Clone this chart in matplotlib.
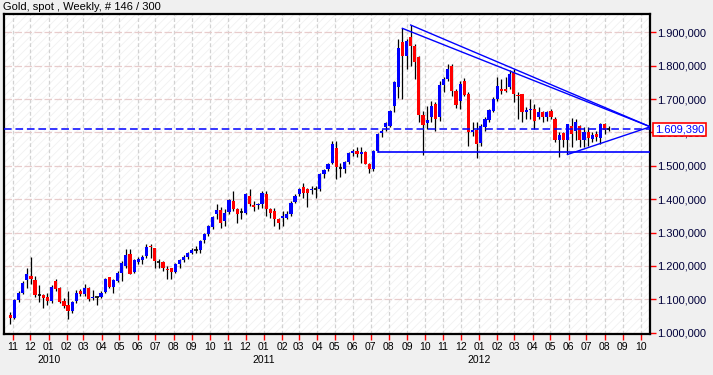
import matplotlib
matplotlib.use('Agg')
import matplotlib.pyplot as plt
import matplotlib.dates as mdates
import matplotlib.transforms as mtransforms
from matplotlib.patches import Rectangle
import numpy as np
import pandas as pd

plt.rcParams['font.family'] = ['Liberation Sans', 'DejaVu Sans']
plt.rcParams['hatch.linewidth'] = 0.5

title = 'Gold, spot , Weekly, # 146 / 300'
first_week = '2009-10-28'

opens = [1053, 1045, 1097, 1120, 1158, 1170, 1158, 1113, 1113, 1108,
         1095, 1155, 1135, 1095, 1083, 1065, 1095, 1125, 1115, 1135,
         1103, 1107, 1107, 1122, 1167, 1138, 1155, 1180, 1200, 1237,
         1182, 1212, 1217, 1230, 1260, 1253, 1214, 1212, 1192, 1193,
         1183, 1207, 1217, 1228, 1238, 1248, 1247, 1277, 1297, 1318,
         1357, 1367, 1335, 1363, 1395, 1370, 1362, 1360, 1410, 1382,
         1384, 1385, 1417, 1372, 1365, 1340, 1345, 1345, 1355, 1393,
         1415, 1437, 1430, 1427, 1430, 1430, 1477, 1490, 1510, 1553,
         1495, 1490, 1513, 1537, 1545, 1535, 1540, 1505, 1492, 1545,
         1598, 1617, 1620, 1680, 1735, 1872, 1830, 1887, 1860, 1825,
         1653, 1628, 1645, 1685, 1645, 1743, 1760, 1800, 1723, 1695,
         1755, 1715, 1600, 1608, 1567, 1615, 1637, 1665, 1700, 1730,
         1730, 1735, 1780, 1712, 1715, 1660, 1667, 1670, 1645, 1660,
         1645, 1665, 1640, 1577, 1598, 1576, 1618, 1604, 1620, 1576,
         1601, 1581, 1596, 1583, 1624, 1607]
highs = [1062, 1100, 1125, 1155, 1195, 1227, 1170, 1143, 1115, 1120,
         1142, 1160, 1137, 1105, 1125, 1095, 1127, 1132, 1145, 1137,
         1128, 1108, 1125, 1165, 1168, 1160, 1185, 1215, 1250, 1250,
         1220, 1227, 1232, 1265, 1267, 1255, 1220, 1215, 1200, 1195,
         1210, 1220, 1232, 1242, 1255, 1260, 1278, 1300, 1322, 1350,
         1387, 1378, 1370, 1400, 1425, 1375, 1375, 1420, 1432, 1395,
         1390, 1425, 1425, 1375, 1375, 1345, 1365, 1365, 1395, 1415,
         1435, 1450, 1435, 1440, 1440, 1480, 1490, 1510, 1575, 1575,
         1510, 1515, 1540, 1550, 1555, 1555, 1545, 1510, 1548, 1598,
         1610, 1630, 1667, 1755, 1880, 1912, 1880, 1922, 1865, 1830,
         1665, 1680, 1695, 1690, 1755, 1765, 1805, 1805, 1730, 1755,
         1763, 1720, 1630, 1630, 1625, 1645, 1670, 1705, 1765, 1760,
         1765, 1787, 1790, 1720, 1715, 1675, 1700, 1685, 1675, 1665,
         1665, 1670, 1645, 1600, 1600, 1626, 1644, 1641, 1622, 1616,
         1616, 1601, 1605, 1629, 1629, 1618]
lows = [1025, 1040, 1092, 1117, 1135, 1145, 1108, 1093, 1073, 1083,
        1090, 1125, 1090, 1075, 1042, 1060, 1090, 1110, 1110, 1095,
        1098, 1083, 1103, 1120, 1133, 1120, 1152, 1155, 1195, 1175,
        1180, 1205, 1205, 1225, 1225, 1195, 1195, 1185, 1160, 1160,
        1180, 1195, 1212, 1220, 1235, 1240, 1240, 1270, 1290, 1310,
        1340, 1315, 1320, 1355, 1365, 1330, 1340, 1355, 1380, 1365,
        1370, 1375, 1350, 1345, 1320, 1310, 1320, 1340, 1350, 1390,
        1410, 1405, 1377, 1415, 1405, 1425, 1465, 1485, 1505, 1462,
        1467, 1480, 1505, 1530, 1525, 1510, 1505, 1478, 1485, 1540,
        1585, 1605, 1615, 1660, 1702, 1700, 1790, 1800, 1760, 1630,
        1532, 1610, 1632, 1605, 1635, 1720, 1755, 1710, 1672, 1670,
        1710, 1560, 1590, 1522, 1560, 1605, 1630, 1660, 1695, 1715,
        1720, 1730, 1690, 1640, 1630, 1640, 1640, 1610, 1640, 1630,
        1635, 1640, 1570, 1527, 1555, 1534, 1556, 1576, 1556, 1556,
        1559, 1571, 1575, 1564, 1596, 1604]
closes = [1045, 1097, 1120, 1150, 1177, 1162, 1113, 1112, 1105, 1095,
          1138, 1132, 1093, 1080, 1065, 1092, 1120, 1117, 1133, 1102,
          1107, 1106, 1120, 1162, 1137, 1158, 1180, 1210, 1233, 1177,
          1217, 1222, 1227, 1257, 1256, 1215, 1213, 1195, 1188, 1183,
          1205, 1217, 1227, 1240, 1248, 1247, 1275, 1297, 1320, 1347,
          1367, 1330, 1360, 1397, 1370, 1355, 1363, 1415, 1387, 1378,
          1387, 1420, 1370, 1358, 1340, 1330, 1350, 1357, 1390, 1410,
          1430, 1420, 1420, 1432, 1430, 1477, 1487, 1507, 1565, 1497,
          1493, 1512, 1537, 1543, 1535, 1540, 1505, 1490, 1545, 1595,
          1605, 1627, 1665, 1750, 1852, 1830, 1875, 1860, 1812, 1653,
          1623, 1638, 1680, 1640, 1743, 1760, 1790, 1725, 1682, 1745,
          1713, 1600, 1608, 1565, 1620, 1640, 1667, 1700, 1740, 1725,
          1725, 1775, 1715, 1708, 1660, 1667, 1670, 1635, 1660, 1645,
          1660, 1645, 1577, 1593, 1576, 1624, 1596, 1631, 1576, 1601,
          1584, 1593, 1586, 1624, 1608, 1609.39]

last_price = 1609.39
support_level = 1540
support_start_week = 89
upper_trend_weeks = [95, 97]
lower_trend_week = 135
apex_price = 1617
y_ticks = [1000, 1100, 1200, 1300, 1400, 1500, 1600, 1700, 1800, 1900]

W, H = 713, 375
fig = plt.figure(figsize=(W / 100, H / 100), dpi=100, facecolor='#F0F0F0')
left, right, top, bottom = 4.3, 650.3, 14.0, 333.7
ax = fig.add_axes([left / W, 1 - bottom / H, (right - left) / W, (bottom - top) / H])
ax.set_facecolor('white')

dates = pd.date_range(first_week, periods=len(opens), freq='7D')
x = mdates.date2num(dates)
x0 = x[0]
xmin = x0 - 1.45 * 7
xmax = x0 + 155.07 * 7
ax.set_xlim(xmin, xmax)
ax.set_ylim(997, 1955)

# background hatch
bg = Rectangle((0, 0), 1, 1, transform=ax.transAxes, facecolor='white',
               edgecolor='#EFEFEF', hatch='////', lw=0, zorder=0)
ax.add_patch(bg)

# grid
months = pd.date_range('2009-11-01', '2012-10-01', freq='MS')
mx = mdates.date2num(months)
for m in mx:
    ax.axvline(m, color='#D2D2D2', lw=0.9, ls=(0, (3, 2)), zorder=1)
for yv in y_ticks:
    ax.axhline(yv, color='#E8CCCC', lw=0.9, ls=(0, (6, 2)), zorder=1)

o = np.array(opens, float)
h = np.array(highs, float)
l = np.array(lows, float)
c = np.array(closes, float)
bw = 5.4
ax.vlines(x, l, h, color='black', lw=0.9, zorder=3)
doji = np.abs(c - o) <= 2.5
up = (c > o) & ~doji
dn = (c < o) & ~doji
ax.bar(x[up], (c - o)[up], bottom=o[up], width=bw, color='#0000FF', lw=0, zorder=4)
ax.bar(x[dn], (o - c)[dn], bottom=c[dn], width=bw, color='#FF0000', lw=0, zorder=4)
ax.hlines(c[doji], x[doji] - bw / 2, x[doji] + bw / 2, color='black', lw=1.2, zorder=4)

# price line and trend lines
blue = '#0000FF'
ax.axhline(last_price, color=blue, lw=1.1, ls=(0, (5, 2.5)), zorder=5)
ax.plot([x[support_start_week], xmax], [support_level, support_level], color=blue, lw=1.2, zorder=5)
for wk in upper_trend_weeks:
    ax.plot([x[wk], xmax], [h[wk], apex_price], color=blue, lw=1.0, zorder=5)
ax.plot([x[lower_trend_week], xmax], [l[lower_trend_week], apex_price], color=blue, lw=1.0, zorder=5)

# axes styling
for s in ax.spines.values():
    s.set_linewidth(1.6)
    s.set_color('black')
ax.yaxis.tick_right()
ax.set_yticks(y_ticks)

def fmt(v):
    s = f'{v:,.3f}'
    return s.replace(',', 'X').replace('.', ',').replace('X', '.')

ax.set_yticklabels([fmt(v) for v in y_ticks])
ax.tick_params(axis='y', which='major', color='red', labelcolor='#00003A', length=4,
               width=1, direction='out', pad=1, labelsize=8)
ax.set_xticks(mx)
ax.set_xticklabels([d.strftime('%m') for d in months])
ax.tick_params(axis='x', which='major', color='red', labelcolor='black', length=4,
               width=1, direction='out', pad=2, labelsize=7.5)
ax.tick_params(axis='both', which='minor', length=0)

trans = mtransforms.blended_transform_factory(ax.transData, ax.transAxes)
for yr in ['2010', '2011', '2012']:
    jx = mdates.date2num(pd.Timestamp(yr + '-01-01'))
    ax.text(jx, -(360 - bottom) / (bottom - top), yr, transform=trans, ha='center',
            va='center', fontsize=7.5, color='black', clip_on=False)

ptrans = mtransforms.blended_transform_factory(ax.transAxes, ax.transData)
ax.text(1 + 4.5 / (right - left), last_price, fmt(last_price), transform=ptrans,
        ha='left', va='center', fontsize=8, color=blue, zorder=20, clip_on=False,
        bbox=dict(boxstyle='square,pad=0.15', facecolor='white', edgecolor='red', lw=1.2))

fig.text(3 / W, 1 - 7.5 / H, title, ha='left', va='center', fontsize=8, color='black')

fig.savefig('out.png', dpi=100, facecolor=fig.get_facecolor())
